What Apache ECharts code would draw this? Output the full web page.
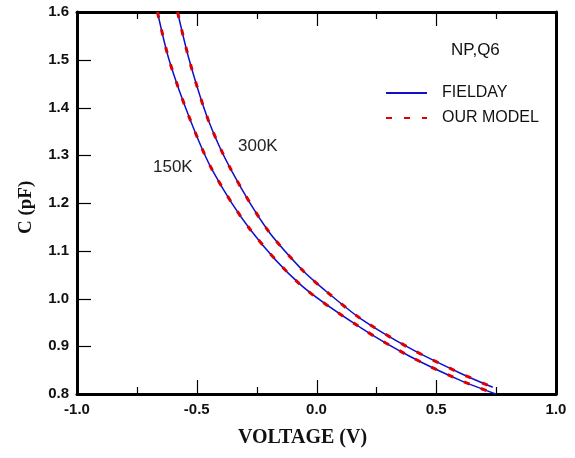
<!DOCTYPE html>
<html>
<head>
<meta charset="utf-8">
<script src="https://cdn.jsdelivr.net/npm/echarts@6/dist/echarts.min.js"></script>
<style>
  html, body { margin: 0; padding: 0; background: #fff; }
  #chart { width: 575px; height: 458px; }
</style>
</head>
<body>
<div id="chart"></div>
<script>
// voltage (V) / capacitance (pF) pairs
var v150 = [-0.664, -0.615, -0.527, -0.435, -0.276, -0.067, 0.184, 0.393, 0.603, 0.749];
var c150 = [1.600, 1.499, 1.374, 1.269, 1.144, 1.029, 0.939, 0.878, 0.828, 0.800];
var v300 = [-0.580, -0.531, -0.452, -0.356, -0.205, -0.060, 0.017, 0.184, 0.393, 0.603, 0.736];
var c300 = [1.600, 1.499, 1.374, 1.269, 1.144, 1.060, 1.025, 0.958, 0.895, 0.843, 0.814];
var xTicks = [-1.0, -0.5, 0.0, 0.5, 1.0];
var xMinorTicks = [-0.75, -0.25, 0.25, 0.75];
var yTicks = [0.8, 0.9, 1.0, 1.1, 1.2, 1.3, 1.4, 1.5, 1.6];

function pairs(xs, ys) {
    var out = [];
    for (var i = 0; i < xs.length; i++) {
        out.push([xs[i], ys[i]]);
    }
    return out;
}

var blue = '#1010c8';
var red = '#dd0000';
var tickFont = { fontFamily: 'Liberation Sans', fontSize: 15, fontWeight: 'bold', color: '#111' };
var frame = { color: '#000', width: 3 };
var xMin = xTicks[0], xMax = xTicks[xTicks.length - 1];
var yMin = yTicks[0], yMax = yTicks[yTicks.length - 1];

function xAxisDef(pos) {
    return {
        type: 'value', position: pos, min: xMin, max: xMax, interval: 0.5,
        axisLine: { show: true, onZero: false, lineStyle: frame },
        axisTick: { show: false },
        splitLine: { show: false },
        axisLabel: pos === 'bottom' ? Object.assign({
            show: true, margin: 8,
            formatter: function (v) { return v.toFixed(1); }
        }, tickFont) : { show: false }
    };
}

function yAxisDef(pos) {
    return {
        type: 'value', position: pos, min: yMin, max: yMax, interval: 0.1,
        axisLine: { show: true, onZero: false, lineStyle: frame },
        axisTick: { show: false },
        splitLine: { show: false },
        axisLabel: pos === 'left' ? Object.assign({
            show: true, margin: 8,
            formatter: function (v) { return v.toFixed(1); }
        }, tickFont) : { show: false }
    };
}

// inside tick marks: [value, side, length]; side 0 bottom, 1 top, 2 left
var tickData = [];
xTicks.forEach(function (v) { tickData.push([v, 0, 14], [v, 1, 14]); });
xMinorTicks.forEach(function (v) { tickData.push([v, 0, 7], [v, 1, 7]); });
yTicks.forEach(function (v) { tickData.push([v, 2, 14]); });

function renderTick(params, api) {
    var v = api.value(0), side = api.value(1), len = api.value(2);
    var p, dx = 0, dy = 0;
    if (side === 0) { p = api.coord([v, yMin]); dy = -len; }
    else if (side === 1) { p = api.coord([v, yMax]); dy = len; }
    else { p = api.coord([xMin, v]); dx = len; }
    var x = side === 2 ? p[0] : Math.round(p[0]) + 0.5;
    var y = side === 2 ? Math.round(p[1]) + 0.5 : p[1];
    return {
        type: 'line',
        shape: { x1: x, y1: y, x2: x + dx, y2: y + dy },
        style: { stroke: '#000', lineWidth: 1.2 }
    };
}

function curve(name, data, color, width, dash, z) {
    return {
        name: name, type: 'line', data: data, smooth: 0.3,
        symbol: 'none', z: z, silent: true,
        lineStyle: { color: color, width: width, type: dash },
        itemStyle: { color: color }
    };
}

var myChart = echarts.init(document.getElementById('chart'));
myChart.setOption({
    animation: false,
    grid: { left: 77, right: 19, top: 12, bottom: 64 },
    xAxis: [xAxisDef('bottom'), xAxisDef('top')],
    yAxis: [yAxisDef('left'), yAxisDef('right')],
    title: {
        text: 'NP,Q6', left: 446, top: 37,
        textStyle: { fontFamily: 'Liberation Sans', fontSize: 17, fontWeight: 'normal', color: '#111' }
    },
    legend: {
        show: true,
        orient: 'vertical', left: 385, top: 85, padding: 0,
        itemWidth: 41, itemHeight: 16, itemGap: 9,
        itemStyle: { opacity: 0 },
        data: ['FIELDAY', 'OUR MODEL'],
        textStyle: { fontFamily: 'Liberation Sans', fontSize: 16, color: '#111', padding: [0, 0, 0, 10] }
    },
    graphic: [
        { type: 'text', left: 153, top: 159, style: { text: '150K', font: '17px "Liberation Sans"', fill: '#222' } },
        { type: 'text', left: 238, top: 138, style: { text: '300K', font: '17px "Liberation Sans"', fill: '#222' } },
        { type: 'text', x: 238, top: 428, style: { text: 'VOLTAGE (V)', font: 'bold 20px "Liberation Serif"', fill: '#111' } },
        { type: 'text', x: 17, y: 234, rotation: Math.PI / 2, style: { text: 'C (pF)', font: 'bold 19px "Liberation Serif"', fill: '#111' } }
    ],
    series: [
        {
            name: 'ticks', type: 'custom', data: tickData, renderItem: renderTick,
            clip: false, silent: true, z: 5
        },
        curve('FIELDAY', pairs(v150, c150), blue, 1.5, 'solid', 2),
        curve('FIELDAY', pairs(v300, c300), blue, 1.5, 'solid', 2),
        curve('OUR MODEL', pairs(v150, c150), red, 3, [6, 12], 3),
        curve('OUR MODEL', pairs(v300, c300), red, 3, [6, 12], 3)
    ]
});
</script>
</body>
</html>
